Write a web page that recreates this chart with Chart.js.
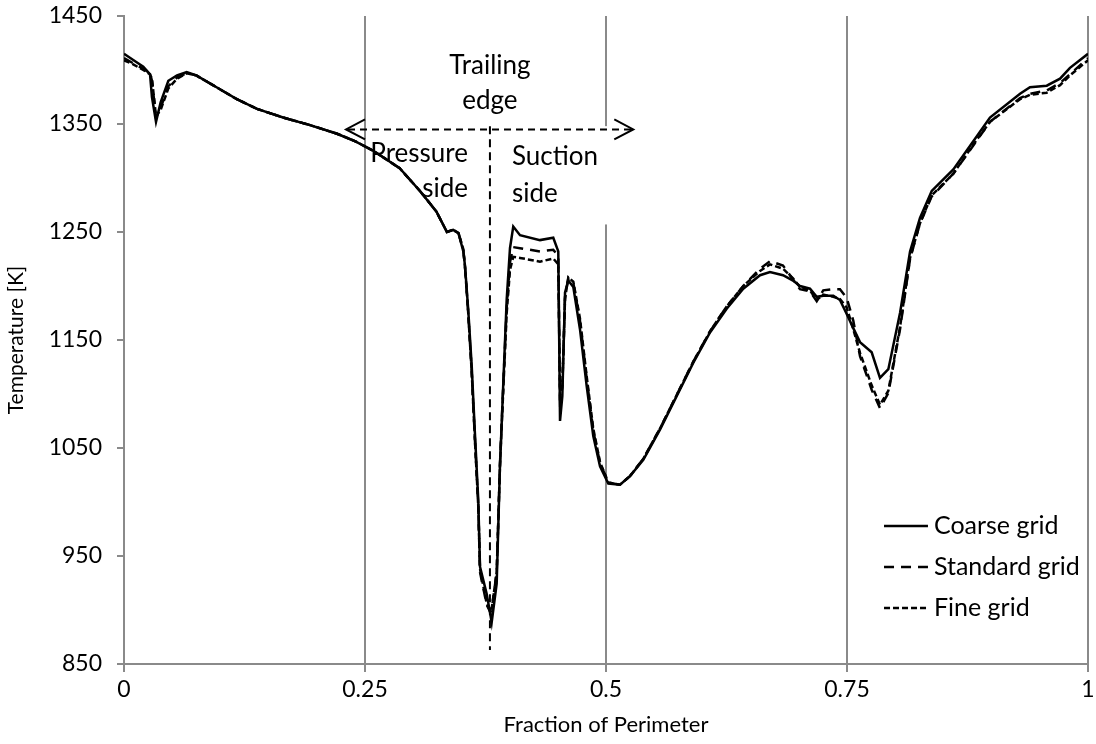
<!DOCTYPE html>
<html>
<head>
<meta charset="utf-8">
<script src="https://cdn.jsdelivr.net/npm/chart.js@4.4.1/dist/chart.umd.min.js"></script>
<style>
  html, body { margin: 0; padding: 0; background: #ffffff; }
  #wrap { width: 1096px; height: 744px; }
</style>
</head>
<body>
<div id="wrap"><canvas id="chart" width="1096" height="744"></canvas></div>
<script>
// Surface temperature along the blade perimeter for three mesh resolutions
const fraction = [
  0.000, 0.010, 0.020, 0.027, 0.029, 0.0332, 0.038, 0.046, 0.055, 0.065,
  0.075, 0.096, 0.117, 0.138, 0.165, 0.193, 0.221, 0.240, 0.259, 0.286,
  0.307, 0.324, 0.335, 0.3415, 0.347, 0.352, 0.3537, 0.357, 0.3607, 0.364,
  0.3675, 0.3693, 0.3762, 0.380, 0.3814, 0.3866, 0.390, 0.3935, 0.397, 0.4004,
  0.4038, 0.4108, 0.4315, 0.4453, 0.4505, 0.4523, 0.4547, 0.4575, 0.4609, 0.4661,
  0.473, 0.480, 0.4868, 0.4938, 0.5024, 0.5145, 0.5249, 0.5387, 0.556, 0.5733,
  0.5906, 0.6079, 0.6252, 0.6424, 0.6598, 0.6701, 0.6836, 0.694, 0.7012, 0.7116,
  0.7186, 0.7254, 0.7358, 0.7427, 0.7497, 0.7565, 0.7635, 0.7756, 0.7842, 0.7929,
  0.805, 0.8154, 0.8257, 0.8379, 0.8603, 0.881, 0.8983, 0.9295, 0.9398, 0.9572,
  0.971, 0.9813, 1.000
];

const coarseGrid = [
  1415, 1409, 1403, 1396, 1375, 1352, 1370, 1390, 1395, 1398,
  1395, 1384, 1373, 1364, 1356, 1349, 1341, 1334, 1325, 1309,
  1288, 1269, 1250, 1252, 1249, 1232, 1219, 1179, 1126, 1064,
  1002, 940, 915, 896, 888.5, 924.5, 1033, 1111, 1188, 1235,
  1255, 1247, 1242.5, 1244.7, 1232, 1075, 1098, 1194, 1205, 1199,
  1160, 1107, 1061, 1033, 1017, 1016, 1024, 1039, 1067, 1098,
  1129, 1157, 1179, 1197.5, 1210, 1213, 1210, 1205, 1200, 1197.5,
  1190, 1191, 1191, 1187, 1174, 1161, 1148, 1138.6, 1115, 1123,
  1175, 1232, 1263, 1288, 1308, 1334, 1356, 1378, 1384, 1385.5,
  1392, 1402, 1415
];

const standardGrid = [
  1411, 1406, 1401, 1397, 1390, 1356, 1365, 1385, 1393, 1397,
  1395, 1384, 1373, 1364, 1356, 1349, 1341, 1334, 1325, 1309,
  1288, 1269, 1250, 1252, 1249, 1233, 1218, 1176, 1120, 1058,
  996, 935, 905, 898, 900, 935, 1035, 1110, 1180, 1222,
  1236, 1235, 1232, 1233.5, 1228, 1094, 1106, 1190, 1207, 1203,
  1168, 1114, 1066, 1036, 1018, 1016, 1024, 1040, 1068, 1099,
  1130, 1158, 1181, 1200, 1216, 1223, 1219, 1206, 1197, 1195,
  1186, 1196, 1197, 1197, 1189, 1168, 1135, 1104, 1087, 1101,
  1160, 1225, 1258, 1283, 1304, 1330, 1352, 1374, 1378, 1381,
  1388, 1396, 1411
];

const fineGrid = [
  1409, 1405, 1400, 1396, 1392, 1357, 1363, 1383, 1392, 1397,
  1395, 1384, 1373, 1364, 1356, 1349, 1341, 1334, 1325, 1309,
  1288, 1269, 1250, 1252, 1249, 1234, 1218, 1176, 1120, 1058,
  996, 938, 906, 899, 901, 935, 1033, 1105, 1175, 1215,
  1227, 1226, 1222.5, 1225.5, 1220, 1098, 1108, 1188, 1208, 1204,
  1170, 1116, 1068, 1037, 1018, 1016, 1024, 1040, 1068, 1099,
  1130, 1158, 1181, 1200, 1214, 1220, 1216, 1207, 1199, 1196,
  1187, 1192, 1190, 1188, 1180, 1160, 1138, 1108, 1090, 1103,
  1162, 1226, 1258, 1284, 1304, 1331, 1352, 1373, 1377, 1379,
  1386, 1395, 1409
];

const seriesNames = ['Coarse grid', 'Standard grid', 'Fine grid'];
const xTickLabels = ['0', '0.25', '0.5', '0.75', '1'];
const yTickLabels = ['850', '950', '1050', '1150', '1250', '1350', '1450'];

const FONT = 'Lato, "Liberation Sans", sans-serif';
const GRID_GREY = '#8a8a8a';

// Annotation placement in data units
const trailingEdgeAt = 0.3796;
const arrowFrom = 0.2303, arrowTo = 0.5283, arrowLevel = 1345;
const edgeLineTop = 1348, edgeLineBottom = 863;

function toPoints(ys) {
  return fraction.map((f, i) => ({ x: f, y: ys[i] }));
}

const annotations = {
  id: 'annotations',
  beforeDatasetsDraw(chart) {
    const { ctx, scales: { x, y } } = chart;
    // white panel behind the suction side label
    ctx.save();
    ctx.fillStyle = '#ffffff';
    const x0 = x.getPixelForValue(0.395), x1 = x.getPixelForValue(0.535);
    const y0 = y.getPixelForValue(1348), y1 = y.getPixelForValue(1257);
    ctx.fillRect(x0, y0, x1 - x0, y1 - y0);
    ctx.restore();
  },
  afterDatasetsDraw(chart) {
    const { ctx, scales: { x, y } } = chart;
    ctx.save();
    ctx.strokeStyle = '#000000';
    ctx.lineWidth = 2;

    // dashed double arrow across the trailing edge
    const ay = y.getPixelForValue(arrowLevel);
    const ax0 = x.getPixelForValue(arrowFrom), ax1 = x.getPixelForValue(arrowTo);
    ctx.setLineDash([7, 5]);
    ctx.beginPath();
    ctx.moveTo(ax0 + 2, ay);
    ctx.lineTo(ax1 - 2, ay);
    ctx.stroke();
    ctx.setLineDash([]);
    ctx.beginPath();
    ctx.moveTo(ax0 + 19, ay - 10); ctx.lineTo(ax0, ay); ctx.lineTo(ax0 + 19, ay + 10);
    ctx.moveTo(ax1 - 19, ay - 10); ctx.lineTo(ax1, ay); ctx.lineTo(ax1 - 19, ay + 10);
    ctx.stroke();

    // dashed vertical marker at the trailing edge
    const ex = x.getPixelForValue(trailingEdgeAt);
    ctx.setLineDash([8, 5]);
    ctx.beginPath();
    ctx.moveTo(ex, y.getPixelForValue(edgeLineTop));
    ctx.lineTo(ex, y.getPixelForValue(edgeLineBottom));
    ctx.stroke();
    ctx.setLineDash([]);

    // labels
    ctx.fillStyle = '#000000';
    ctx.font = '26px ' + FONT;
    ctx.textBaseline = 'middle';
    ctx.textAlign = 'center';
    ctx.fillText('Trailing', ex, y.getPixelForValue(1404));
    ctx.fillText('edge', ex, y.getPixelForValue(1372));
    ctx.textAlign = 'right';
    const px = x.getPixelForValue(0.3568);
    ctx.fillText('Pressure', px, y.getPixelForValue(1323));
    ctx.fillText('side', px, y.getPixelForValue(1290.5));
    ctx.textAlign = 'left';
    const sx = x.getPixelForValue(0.4025);
    ctx.fillText('Suction', sx, y.getPixelForValue(1319.5));
    ctx.fillText('side', sx, y.getPixelForValue(1286));

    // legend
    const lx0 = x.getPixelForValue(0.7884), lx1 = x.getPixelForValue(0.834);
    const tx = x.getPixelForValue(0.8402);
    const rows = [977.8, 939.8, 901.9];
    ctx.font = '25px ' + FONT;
    chart.data.datasets.forEach((ds, i) => {
      const ly = Math.round(y.getPixelForValue(rows[i]));
      ctx.strokeStyle = ds.borderColor;
      ctx.lineWidth = ds.borderWidth;
      ctx.setLineDash(ds.borderDash || []);
      ctx.beginPath();
      ctx.moveTo(lx0, ly);
      ctx.lineTo(lx1, ly);
      ctx.stroke();
      ctx.setLineDash([]);
      ctx.fillStyle = '#000000';
      ctx.textAlign = 'left';
      ctx.fillText(ds.label, tx, ly);
    });
    ctx.restore();
  }
};

new Chart(document.getElementById('chart'), {
  type: 'scatter',
  data: {
    datasets: [
      { label: seriesNames[0], data: toPoints(coarseGrid), showLine: true, borderColor: '#000000',
        borderWidth: 2.5, borderDash: [], pointRadius: 0, tension: 0, order: 3 },
      { label: seriesNames[1], data: toPoints(standardGrid), showLine: true, borderColor: '#000000',
        borderWidth: 2.5, borderDash: [10, 7], pointRadius: 0, tension: 0, order: 2 },
      { label: seriesNames[2], data: toPoints(fineGrid), showLine: true, borderColor: '#000000',
        borderWidth: 2.5, borderDash: [6, 3], pointRadius: 0, tension: 0, order: 1 }
    ]
  },
  options: {
    responsive: false,
    animation: false,
    devicePixelRatio: 1,
    layout: { padding: { left: 0, top: 16, right: 8, bottom: 0 } },
    plugins: { legend: { display: false }, tooltip: { enabled: false } },
    scales: {
      x: {
        type: 'linear', min: 0, max: 1,
        afterFit(scale) {
          scale.height = 80;
          scale.paddingLeft = 0;
          scale.paddingRight = 0;
        },
        afterBuildTicks(scale) {
          scale.ticks = xTickLabels.map(t => ({ value: parseFloat(t) }));
        },
        ticks: {
          color: '#000000', font: { family: FONT, size: 23 }, padding: 4,
          callback: (v, i) => xTickLabels[i], maxRotation: 0, autoSkip: false
        },
        grid: { color: GRID_GREY, lineWidth: 2, drawTicks: true, tickLength: 8 },
        border: { display: true, color: GRID_GREY, width: 2 },
        title: { display: true, text: 'Fraction of Perimeter', color: '#000000',
                 font: { family: FONT, size: 22 }, padding: { top: 0, bottom: 6 } }
      },
      y: {
        type: 'linear', min: 850, max: 1450,
        afterFit(scale) {
          scale.width = 124;
          scale.paddingTop = 0;
          scale.paddingBottom = 0;
        },
        afterBuildTicks(scale) {
          scale.ticks = yTickLabels.map(t => ({ value: parseFloat(t) }));
        },
        ticks: {
          color: '#000000', font: { family: FONT, size: 23 }, padding: 15,
          callback: (v, i) => yTickLabels[i], autoSkip: false
        },
        grid: { drawOnChartArea: false, color: GRID_GREY, lineWidth: 2, drawTicks: true, tickLength: 7 },
        border: { display: true, color: GRID_GREY, width: 2 },
        title: { display: true, text: 'Temperature [K]', color: '#000000',
                 font: { family: FONT, size: 21 }, padding: { top: 4, bottom: 0 } }
      }
    }
  },
  plugins: [annotations]
});
</script>
</body>
</html>
